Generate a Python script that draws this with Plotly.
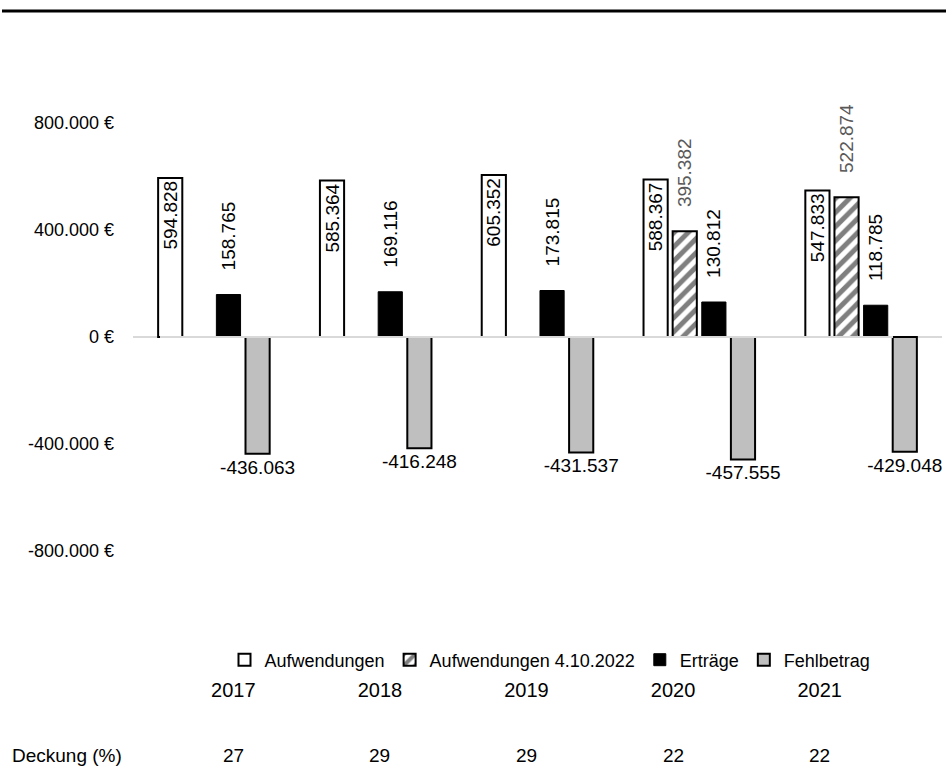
import plotly.graph_objects as go

years = ["2017", "2018", "2019", "2020", "2021"]
aufwendungen = [594828, 585364, 605352, 588367, 547833]
aufwendungen_2022 = [None, None, None, 395382, 522874]
ertraege = [158765, 169116, 173815, 130812, 118785]
fehlbetrag = [-436063, -416248, -431537, -457555, -429048]
deckung = [27, 29, 29, 22, 22]
y_tickvals = [800000, 400000, 0, -400000, -800000]
y_ticktext = ["800.000 €", "400.000 €", "0 €", "-400.000 €", "-800.000 €"]

FONT = "Liberation Sans, Arial, sans-serif"
W, H = 946, 766
idx = list(range(len(years)))
PAD = "\u00a0" * 4


def de(v, pad=""):
    return "" if v is None else pad + f"{v:,}".replace(",", ".")


fig = go.Figure()
fig.add_trace(go.Bar(
    name="Aufwendungen", x=years, y=aufwendungen,
    marker=dict(color="white", line=dict(color="black", width=2)),
    text=[de(v) for v in aufwendungen], textposition="inside",
    insidetextanchor="end", textangle=-90, constraintext="none",
    textfont=dict(color="black", size=19, family=FONT),
    cliponaxis=False, hoverinfo="skip"))
fig.add_trace(go.Bar(
    name="Aufwendungen 4.10.2022", x=years, y=aufwendungen_2022,
    marker=dict(color="white", line=dict(color="black", width=2),
                pattern=dict(shape="/", fgcolor="black", bgcolor="white",
                             size=10, solidity=0.5, fillmode="overlay")),
    text=[de(v, PAD) for v in aufwendungen_2022], textposition="outside",
    textangle=-90, constraintext="none",
    textfont=dict(color="#595959", size=19, family=FONT),
    cliponaxis=False, hoverinfo="skip"))
fig.add_trace(go.Bar(
    name="Erträge", x=years, y=ertraege,
    marker=dict(color="black", line=dict(color="black", width=1)),
    text=[de(v, PAD) for v in ertraege], textposition="outside",
    textangle=-90, constraintext="none",
    textfont=dict(color="black", size=19, family=FONT),
    cliponaxis=False, hoverinfo="skip"))
fig.add_trace(go.Bar(
    name="Fehlbetrag", x=years, y=fehlbetrag,
    marker=dict(color="#bfbfbf", line=dict(color="black", width=2)),
    text=[de(v) for v in fehlbetrag], textposition="outside",
    textangle=0, constraintext="none",
    textfont=dict(color="black", size=19, family=FONT),
    cliponaxis=False, hoverinfo="skip"))

for i, d in zip(idx, deckung):
    fig.add_annotation(x=i, xref="x2", y=(H - 755) / H, yref="paper",
                       yanchor="middle", text=str(d), showarrow=False,
                       font=dict(size=19, family=FONT, color="black"))
fig.add_annotation(x=10 / W, xref="paper", y=(H - 755) / H, yref="paper",
                   xanchor="left", yanchor="middle", text="Deckung (%)",
                   showarrow=False,
                   font=dict(size=19, family=FONT, color="black"))

fig.add_shape(type="line", xref="paper", yref="paper",
              x0=2 / W, x1=1, y0=(H - 11) / H, y1=(H - 11) / H,
              line=dict(color="black", width=3))

fig.update_layout(
    width=W, height=H,
    margin=dict(l=0, r=0, t=0, b=0, autoexpand=False),
    paper_bgcolor="white", plot_bgcolor="rgba(0,0,0,0)",
    font=dict(family=FONT, size=16, color="black"),
    barmode="group", bargap=0.28, bargroupgap=0.17,
    showlegend=True,
    legend=dict(orientation="h", x=550 / W, xanchor="center",
                y=(H - 660) / H, yanchor="middle",
                font=dict(size=18, family=FONT), itemwidth=30,
                tracegroupgap=0, bgcolor="rgba(0,0,0,0)"),
    xaxis=dict(type="category", categoryarray=years,
               domain=[133 / W, 942 / W], automargin=False,
               showticklabels=False, showline=False, showgrid=False,
               zeroline=False, ticks=""),
    xaxis2=dict(type="linear", domain=[160 / W, 893 / W], range=[-0.5, 4.5],
                tickvals=idx, ticktext=years, automargin=False,
                anchor="free", position=(H - 676) / H,
                showline=False, showgrid=False, zeroline=False, ticks="",
                tickfont=dict(size=20, family=FONT, color="black")),
    yaxis=dict(domain=[(H - 551) / H, (H - 123) / H], automargin=False,
               range=[-800000, 800000], tickvals=y_tickvals,
               ticktext=y_ticktext, showgrid=False, showline=False,
               zeroline=True, zerolinecolor="#d9d9d9", zerolinewidth=2,
               ticks="", ticklabelstandoff=18,
               tickfont=dict(size=18, family=FONT, color="black")),
)

fig.write_html("out.html", config={"displayModeBar": False},
               post_script="document.body.style.margin='0';document.body.style.overflow='hidden';")
